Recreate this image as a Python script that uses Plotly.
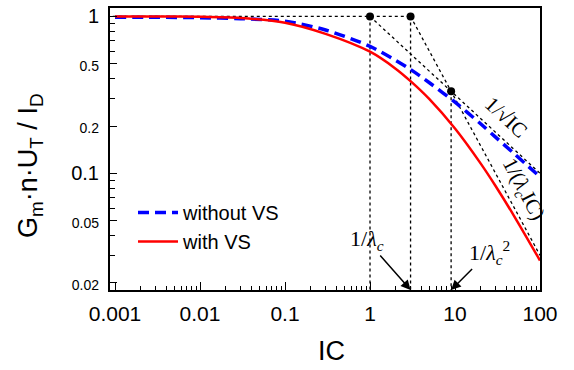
import plotly.graph_objects as go

# ---------------- data ----------------
ic = [0.001, 0.003, 0.01, 0.03, 0.1, 0.3, 1, 2, 3, 5, 10, 20, 30, 50, 100]
without_vs = [0.99, 0.988, 0.982, 0.968, 0.932, 0.82, 0.645, 0.525, 0.459, 0.378,
              0.284, 0.207, 0.170, 0.133, 0.095]
with_vs = [1.0, 0.999, 0.995, 0.977, 0.912, 0.775, 0.596, 0.465, 0.387, 0.297,
           0.193, 0.1157, 0.083, 0.053, 0.0278]

# guide construction points
dot_ic = [1, 3, 9]
dot_val = [1, 1, 0.3333]
flat_ic = [0.0008, 3]
flat_val = [1, 1]
sqrt_ic = [1, 100]
sqrt_val = [1, 0.1]
vs_ic = [3, 100]
vs_val = [1, 0.03]
vline_bottom = 0.01

y_tickvals = [0.02, 0.05, 0.1, 0.2, 0.5, 1]
y_ticktext = ["<span style='font-size:14px'>0.02</span>",
              "<span style='font-size:14px'>0.05</span>",
              "0.1",
              "<span style='font-size:14px'>0.2</span>",
              "<span style='font-size:14px'>0.5</span>",
              "1"]
y_minor = [0.03, 0.04, 0.06, 0.07, 0.08, 0.09, 0.3, 0.4, 0.6, 0.7, 0.8, 0.9]
x_tickvals = [0.001, 0.01, 0.1, 1, 10, 100]
x_ticktext = ["0.001", "0.01", "0.1", "1", "10", "100"]
x_minor = [m * d for d in [0.001, 0.01, 0.1, 1, 10] for m in range(2, 10)]

SANS = "Liberation Sans, Arial, sans-serif"
SERIF = "Liberation Serif, Times New Roman, serif"
guide = dict(color="black", width=1.3, dash="3px,3px")

fig = go.Figure()

# guides
fig.add_trace(go.Scatter(x=flat_ic, y=flat_val, mode="lines", line=guide,
                         showlegend=False, hoverinfo="skip"))
for xi, yi in zip(dot_ic, dot_val):
    fig.add_trace(go.Scatter(x=[xi, xi], y=[yi, vline_bottom], mode="lines",
                             line=guide, showlegend=False, hoverinfo="skip"))
fig.add_trace(go.Scatter(x=sqrt_ic, y=sqrt_val, mode="lines", line=guide,
                         showlegend=False, hoverinfo="skip"))
fig.add_trace(go.Scatter(x=vs_ic, y=vs_val, mode="lines", line=guide,
                         showlegend=False, hoverinfo="skip"))

# curves
fig.add_trace(go.Scatter(x=ic, y=without_vs, mode="lines", name="without VS",
                         line=dict(color="#0000ff", width=3.5, dash="11px,6px",
                                   shape="spline", smoothing=0.8)))
fig.add_trace(go.Scatter(x=ic, y=with_vs, mode="lines", name="with VS",
                         line=dict(color="#ff0000", width=2.5,
                                   shape="spline", smoothing=0.8)))

fig.add_trace(go.Scatter(x=dot_ic, y=dot_val, mode="markers",
                         marker=dict(color="black", size=8),
                         showlegend=False, hoverinfo="skip"))

fig.update_xaxes(type="log", range=[-3.059, 2.0],
                 tickvals=x_tickvals, ticktext=x_ticktext,
                 tickfont=dict(family=SANS, size=21, color="black"),
                 ticks="inside", ticklen=8, tickwidth=1, tickcolor="black",
                 minor=dict(tickvals=x_minor, ticks="inside", ticklen=4,
                            tickcolor="black", tickwidth=1, showgrid=False),
                 showline=True, linecolor="black", linewidth=2, mirror=True,
                 showgrid=False, zeroline=False, ticklabelstandoff=4)
fig.update_yaxes(type="log", range=[-1.744, 0.054],
                 tickvals=y_tickvals, ticktext=y_ticktext,
                 tickfont=dict(family=SANS, size=20, color="black"),
                 ticks="inside", ticklen=7, tickwidth=1, tickcolor="black",
                 minor=dict(tickvals=y_minor, ticks="inside", ticklen=5,
                            tickcolor="black", tickwidth=1, showgrid=False),
                 showline=True, linecolor="black", linewidth=2, mirror=True,
                 showgrid=False, zeroline=False, ticklabelstandoff=5)

ann = []
# axis titles
ann.append(dict(text="G<sub>m</sub>·n·U<sub>T</sub> / I<sub>D</sub>", xref="paper", yref="paper",
                x=-0.186, y=0.44, textangle=-90, showarrow=False,
                font=dict(family=SANS, size=27, color="black"),
                xanchor="center", yanchor="middle"))
ann.append(dict(text="IC", xref="paper", yref="paper", x=0.516, y=-0.215,
                showarrow=False, font=dict(family=SANS, size=27, color="black"),
                xanchor="center", yanchor="middle"))
# slope labels
ann.append(dict(text="1/√IC", x=1.60, y=-0.64, xref="x", yref="y",
                showarrow=False, textangle=43,
                font=dict(family=SERIF, size=21, color="black")))
ann.append(dict(text="1/(<i>λ<sub>c</sub></i>IC)", x=1.80, y=-1.10, xref="x", yref="y",
                showarrow=False, textangle=62,
                font=dict(family=SERIF, size=21, color="black")))
# arrows
ann.append(dict(text="1/<i>λ<sub>c</sub></i>", x=0.4771, y=-1.744, xref="x", yref="y",
                showarrow=True, ax=-44, ay=-50, arrowhead=2, arrowsize=1.3,
                arrowwidth=1.5, arrowcolor="black",
                font=dict(family=SERIF, size=22, color="black")))
ann.append(dict(text="1/<i>λ<sub>c</sub></i><sup>2</sup>", x=0.9542, y=-1.744, xref="x", yref="y",
                showarrow=True, ax=38, ay=-38, arrowhead=2, arrowsize=1.3,
                arrowwidth=1.5, arrowcolor="black",
                font=dict(family=SERIF, size=22, color="black")))

fig.update_layout(
    width=574, height=370,
    margin=dict(l=110, r=34, t=6, b=80),
    paper_bgcolor="white", plot_bgcolor="white",
    annotations=ann,
    legend=dict(x=0.0535, y=0.344, xanchor="left", yanchor="top",
                bgcolor="rgba(0,0,0,0)", borderwidth=0, itemwidth=40,
                font=dict(family=SANS, size=20, color="black"),
                tracegroupgap=0),
)

fig.write_html("out.html")
